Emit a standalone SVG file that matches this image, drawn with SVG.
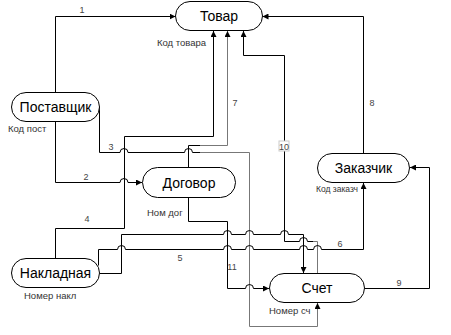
<svg xmlns="http://www.w3.org/2000/svg" width="451" height="335" viewBox="0 0 451 335">
<style>
.node{fill:#fff;stroke:#000;stroke-width:1}
.nt{font-family:"Liberation Sans",Arial,sans-serif;font-size:14px;fill:#000;text-anchor:middle}
.lb{font-family:"Liberation Sans",Arial,sans-serif;font-size:9.5px;fill:#333}
.num{font-family:"Liberation Sans",Arial,sans-serif;font-size:9px;fill:#444;text-anchor:middle}
.c{fill:none;stroke:#000;stroke-width:1}
.g{fill:none;stroke:#777;stroke-width:1}
.a{marker-end:url(#arr)}
</style>
<defs>
<marker id="arr" markerUnits="userSpaceOnUse" markerWidth="6" markerHeight="6" refX="6" refY="3" orient="auto">
<path d="M0,0 L6,3 L0,6 z" fill="#000"/>
</marker>
</defs>
<rect width="451" height="335" fill="#fff"/>
<g id="connectors">
<path class="c a" d="M55.5,92 V16.5 H175.5"/>
<path class="c a" d="M55.5,122 V182.5 H120 a4,4 0 0 1 8,0 H142"/>
<path class="c" d="M99.5,107 V152.5 H120 a4,4 0 0 1 8,0 H184.5 a4,4 0 0 1 8,0 H200"/>
<path class="g a" d="M200,152.5 H249.5 V326.5 H317.5 V303"/>
<path class="c a" d="M55.5,258 V228.5 H124.5 V136.5 H213.5 V31"/>
<path class="c" d="M188.5,167 V145.5 H200"/>
<path class="g a" d="M200,145.5 H227.5 V31"/>
<path class="c a" d="M363.5,153 V16.5 H262.5"/>
<path class="c a" d="M365,288.5 H429.5 V167.5 H410"/>
<path class="g" d="M317.5,273 V241.5 H313"/>
<path class="c a" d="M313,241.5 H307.5 a4,4 0 0 0 -8,0 H284.5 V55.5 H243.5 V31"/>
<path class="c a" d="M188.5,198 V221.5 H227.5 V288.5 H245.5 a4,4 0 0 1 8,0 H269"/>
<path class="c a" d="M100,273.5 H121.5 V234.5 H223.5 a4,4 0 0 1 8,0 H245.5 a4,4 0 0 1 8,0 H280.5 a4,4 0 0 1 8,0 H303.5 V273"/>
<path class="c a" d="M98.5,265.5 V249.5 H117.5 a4,4 0 0 1 8,0 H223.5 a4,4 0 0 1 8,0 H245.5 a4,4 0 0 1 8,0 H299.5 a4,4 0 0 1 8,0 H313.5 a4,4 0 0 1 8,0 H363.5 V183"/>
<text class="num" x="82" y="13">1</text>
<text class="num" x="86" y="180">2</text>
<text class="num" x="111" y="150">3</text>
<text class="num" x="87" y="222">4</text>
<text class="num" x="180" y="261">5</text>
<text class="num" x="340" y="247">6</text>
<text class="num" x="235" y="106">7</text>
<text class="num" x="372" y="106">8</text>
<text class="num" x="399" y="286">9</text>
<rect x="279" y="141" width="10" height="10" fill="#fff" stroke="#ccc" stroke-width="1"/>
<text class="num" x="284" y="149.5">10</text>
<text class="num" x="232" y="270">11</text>
</g>
<g id="tovar">
<rect class="node" x="175.5" y="1.5" width="87" height="29" rx="14.5"/>
<text class="nt" x="219" y="21">Товар</text>
<text class="lb" x="157" y="46">Код товара</text>
</g>
<g id="postavshchik">
<rect class="node" x="11.5" y="92.5" width="88" height="29" rx="14.5"/>
<text class="nt" x="55.5" y="112">Поставщик</text>
<text class="lb" x="8" y="132">Код пост</text>
</g>
<g id="dogovor">
<rect class="node" x="142.5" y="167.5" width="93" height="30" rx="15"/>
<text class="nt" x="189" y="187.5">Договор</text>
<text class="lb" x="147" y="216">Ном дог</text>
</g>
<g id="nakladnaya">
<rect class="node" x="11.5" y="258.5" width="88" height="29" rx="14.5"/>
<text class="nt" x="55.5" y="278">Накладная</text>
<text class="lb" x="24" y="299">Номер накл</text>
</g>
<g id="zakazchik">
<rect class="node" x="317.5" y="153.5" width="92" height="29" rx="14.5"/>
<text class="nt" x="363.5" y="173">Заказчик</text>
<text class="lb" x="316" y="192" textLength="42" lengthAdjust="spacingAndGlyphs">Код заказч</text>
</g>
<g id="schet">
<rect class="node" x="269.5" y="273.5" width="95" height="29" rx="14.5"/>
<text class="nt" x="317" y="293">Счет</text>
<text class="lb" x="269" y="314">Номер сч</text>
</g>
</svg>
